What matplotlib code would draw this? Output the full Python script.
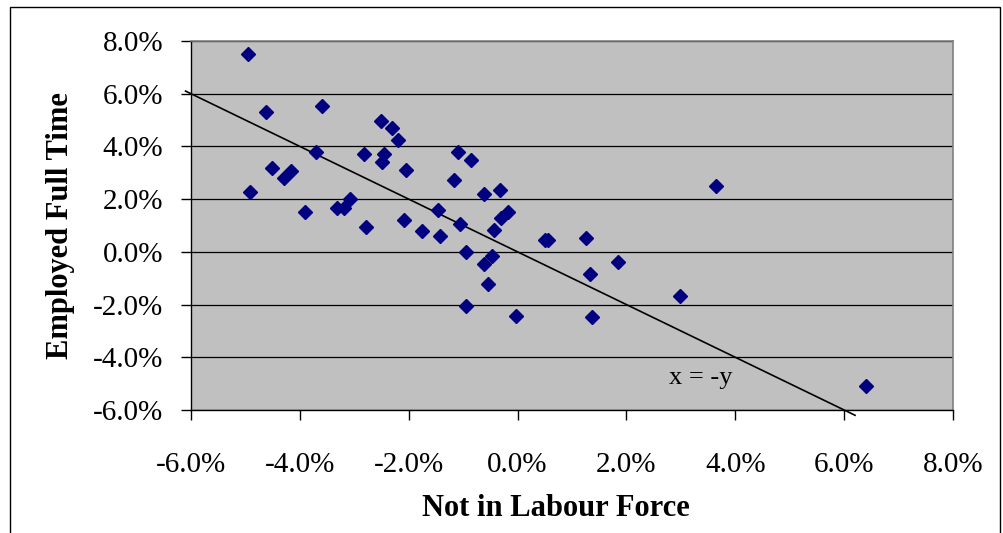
import numpy as np
import matplotlib
matplotlib.use('Agg')
import matplotlib.pyplot as plt
import matplotlib.ticker as ticker
from matplotlib.patches import Rectangle

# change in share, % points
not_in_lf = [-4.95, -4.62, -3.59, -2.50, -2.31, -2.20, -3.71, -2.83, -2.46, -2.49,
             -4.51, -4.17, -4.29, -2.05, -4.92, -1.10, -0.85, -1.17, -0.62, -0.33,
             -3.90, -3.31, -3.18, -3.08, -2.79, -2.09, -1.76, -1.47, -1.43, -1.06,
             -0.18, -0.31, -0.44, -0.95, -0.47, -0.62, -0.55, -0.95, -0.03, 0.50,
             0.56, 1.26, 1.33, 1.84, 1.36, 2.98, 3.64, 6.40]
emp_full_time = [7.50, 5.31, 5.53, 4.95, 4.69, 4.25, 3.80, 3.71, 3.73, 3.40,
                 3.19, 3.07, 2.82, 3.11, 2.28, 3.78, 3.49, 2.73, 2.20, 2.35,
                 1.52, 1.68, 1.68, 2.00, 0.93, 1.21, 0.78, 1.59, 0.61, 1.07,
                 1.53, 1.30, 0.82, 0.00, -0.15, -0.47, -1.21, -2.04, -2.42, 0.46,
                 0.46, 0.53, -0.83, -0.37, -2.49, -1.66, 2.50, -5.09]

ref_x = [-6.1, 6.2]
ref_y = [6.1, -6.2]

plt.rcParams['font.family'] = ['Liberation Serif', 'DejaVu Serif']

fig = plt.figure(figsize=(10.04, 5.33), dpi=100)
ax = fig.add_axes([191/1004, 123/533, 762/1004, 369/533])

# outer chart border
fig.patches.append(Rectangle((10/1004, -0.05), 990/1004, 1.05 - 7/533,
                             transform=fig.transFigure, fill=False,
                             edgecolor='black', linewidth=1.0))

ax.set_facecolor('#C0C0C0')
ax.set_xlim(-6, 8)
ax.set_ylim(-6, 8)

ax.yaxis.set_major_locator(ticker.MultipleLocator(2))
ax.xaxis.set_major_locator(ticker.MultipleLocator(2))
fmt = ticker.FuncFormatter(lambda v, p: "%.1f%%" % v)
ax.xaxis.set_major_formatter(fmt)
ax.yaxis.set_major_formatter(fmt)

ax.grid(axis='y', color='black', linewidth=0.9)
ax.set_axisbelow(True)

for s in ['top', 'right']:
    ax.spines[s].set_color('#808080')
    ax.spines[s].set_linewidth(1.2)
for s in ['left', 'bottom']:
    ax.spines[s].set_color('black')
    ax.spines[s].set_linewidth(1.0)

ax.tick_params(direction='out', length=7, width=1, labelsize=21)
ax.tick_params(axis='x', pad=23)
ax.tick_params(axis='y', pad=13)

ax.plot(ref_x, ref_y, color='black', linewidth=1.2, clip_on=False, zorder=3)
ax.plot(not_in_lf, emp_full_time, linestyle='none', marker='D', markersize=7.5,
        color='#000080', zorder=4)

ax.text(2.78, -5.01, "x = -y", fontsize=19, va='baseline', ha='left')

ax.set_xlabel("Not in Labour Force", fontsize=22, fontweight='bold', va='center')
ax.xaxis.set_label_coords(0.479, -0.267)
ax.set_ylabel("Employed Full Time", fontsize=22, fontweight='bold', va='center')
ax.yaxis.set_label_coords(-0.171, 0.5)

fig.savefig('out.png', dpi=100)
